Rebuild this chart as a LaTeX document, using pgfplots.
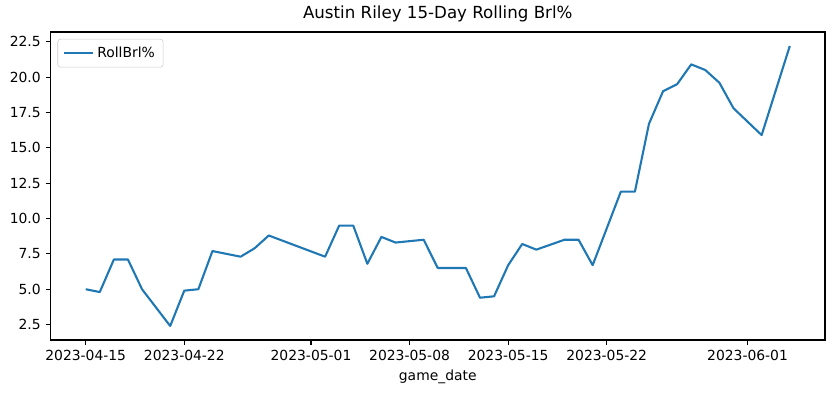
\documentclass[border=0pt]{standalone}
\usepackage{pgfplots}
\pgfplotsset{compat=1.18}
\usepackage{fontspec}
\setmainfont{DejaVu Sans}
\definecolor{mplblue}{HTML}{1F77B4}
\begin{document}
\begin{tikzpicture}
\path[use as bounding box] (-36.36pt,-38.16pt) rectangle (564.84pt,244.8pt);
\begin{axis}[
  at={(0pt,0pt)}, anchor=south west,
  scale only axis,
  width=557.64pt, height=221.76pt,
  xmin=-2.5, xmax=52.5,
  ymin=1.41, ymax=23.19,
  xtick={0,7,16,23,30,37,47},
  xticklabels={2023-04-15,2023-04-22,2023-05-01,2023-05-08,2023-05-15,2023-05-22,2023-06-01},
  ytick={2.5,5,7.5,10,12.5,15,17.5,20,22.5},
  yticklabel style={/pgf/number format/.cd, fixed, fixed zerofill, precision=1, assume math mode=true},
  xticklabel style={/pgf/number format/assume math mode=true},
  tick label style={font=\fontsize{10}{12}\selectfont, color=black},
  tick align=outside,
  major tick length=3.5pt,
  xtick pos=bottom, ytick pos=left,
  axis line style={line width=0.8pt},
  every tick/.style={line width=0.8pt, black},
  title={Austin Riley 15-Day Rolling Brl\%},
  title style={font=\fontsize{12}{14}\selectfont, yshift=-2pt},
  xlabel={game\_date},
  xlabel style={font=\fontsize{10}{12}\selectfont, yshift=0pt},
  legend style={font=\fontsize{10}{12}\selectfont, draw=black!20, rounded corners=2pt, fill=white, fill opacity=0.8, text opacity=1, inner xsep=4pt, inner ysep=3.5pt, at={(axis description cs:0,1)}, xshift=5pt, yshift=-5pt, anchor=north west},
  legend image code/.code={\draw[#1] (0pt,0pt) -- (21pt,0pt);},
  legend cell align=left,
]
\addplot[mplblue, line width=1.5pt, line join=round] coordinates {
(0,5.0) (1,4.8) (2,7.1) (3,7.1) (4,5.0) (6,2.4) (7,4.9) (8,5.0) (9,7.7)
(11,7.3) (12,7.9) (13,8.8) (17,7.3) (18,9.5) (19,9.5) (20,6.8) (21,8.7)
(22,8.3) (24,8.5) (25,6.5) (27,6.5) (28,4.4) (29,4.5) (30,6.7) (31,8.2)
(32,7.8) (34,8.5) (35,8.5) (36,6.7) (38,11.9) (39,11.9) (40,16.7) (41,19.0)
(42,19.5) (43,20.9) (44,20.5) (45,19.6) (46,17.8) (48,15.9) (50,22.2)
};
\addlegendentry{RollBrl\%}
\end{axis}
\end{tikzpicture}
\end{document}
